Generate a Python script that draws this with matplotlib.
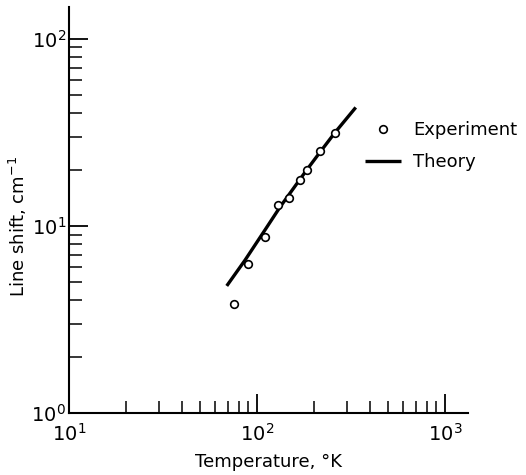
import matplotlib
matplotlib.use("Agg")
import matplotlib.pyplot as plt
from matplotlib.ticker import LogLocator

# experimental points (temperature in K, line shift in cm^-1)
exp_temp = [75.7, 90.0, 110.7, 129.4, 148.6, 169.4, 185.2, 217.4, 260.6]
exp_shift = [3.81, 6.26, 8.73, 12.9, 14.1, 17.5, 20.0, 25.3, 31.4]

# theory curve
theory_temp = [69.0, 86.3, 108.2, 132.4, 183.6, 216.3, 260.0, 335.0]
theory_shift = [4.78, 6.56, 9.25, 12.6, 19.9, 24.8, 31.6, 43.0]

plt.rcParams["font.family"] = ["DejaVu Sans"]

fig = plt.figure(figsize=(5.26, 4.75), dpi=100)
ax = fig.add_axes([0.1312, 0.1305, 0.7586, 0.8547])

ax.plot(theory_temp, theory_shift, color="black", linewidth=2.4,
        solid_capstyle="butt", label="Theory", zorder=2)
ax.plot(exp_temp, exp_shift, linestyle="none", marker="o", markersize=5.5,
        markerfacecolor="white", markeredgecolor="black", markeredgewidth=1.2,
        label="Experiment", zorder=3)

ax.set_xscale("log")
ax.set_yscale("log")
ax.set_xlim(10, 1325)
ax.set_ylim(1, 148)

ax.xaxis.set_major_locator(LogLocator(base=10, numticks=10))
ax.yaxis.set_major_locator(LogLocator(base=10, numticks=10))
ax.xaxis.set_minor_locator(LogLocator(base=10, subs=range(2, 10), numticks=20))
ax.yaxis.set_minor_locator(LogLocator(base=10, subs=range(2, 10), numticks=20))

ax.spines["top"].set_visible(False)
ax.spines["right"].set_visible(False)
ax.spines["left"].set_linewidth(1.5)
ax.spines["bottom"].set_linewidth(1.5)

ax.tick_params(which="major", direction="in", length=14, width=1.3, labelsize=14)
ax.tick_params(axis="x", which="major", pad=7)
ax.tick_params(axis="y", which="major", pad=2)
ax.tick_params(which="minor", direction="in", length=9, width=1.1)

ax.set_xlabel("Temperature, °K", fontsize=13, labelpad=6)
ax.set_ylabel("Line shift, cm$^{-1}$", fontsize=13)
ax.yaxis.set_label_coords(-0.1, 0.46)

handles, labels = ax.get_legend_handles_labels()
ax.legend(handles[::-1], labels[::-1], loc="upper left", bbox_to_anchor=(0.723, 0.736),
          frameon=False, fontsize=13, handlelength=2.0, handletextpad=0.7,
          labelspacing=0.75, borderaxespad=0)

fig.savefig("out.png", dpi=100)
plt.close(fig)
